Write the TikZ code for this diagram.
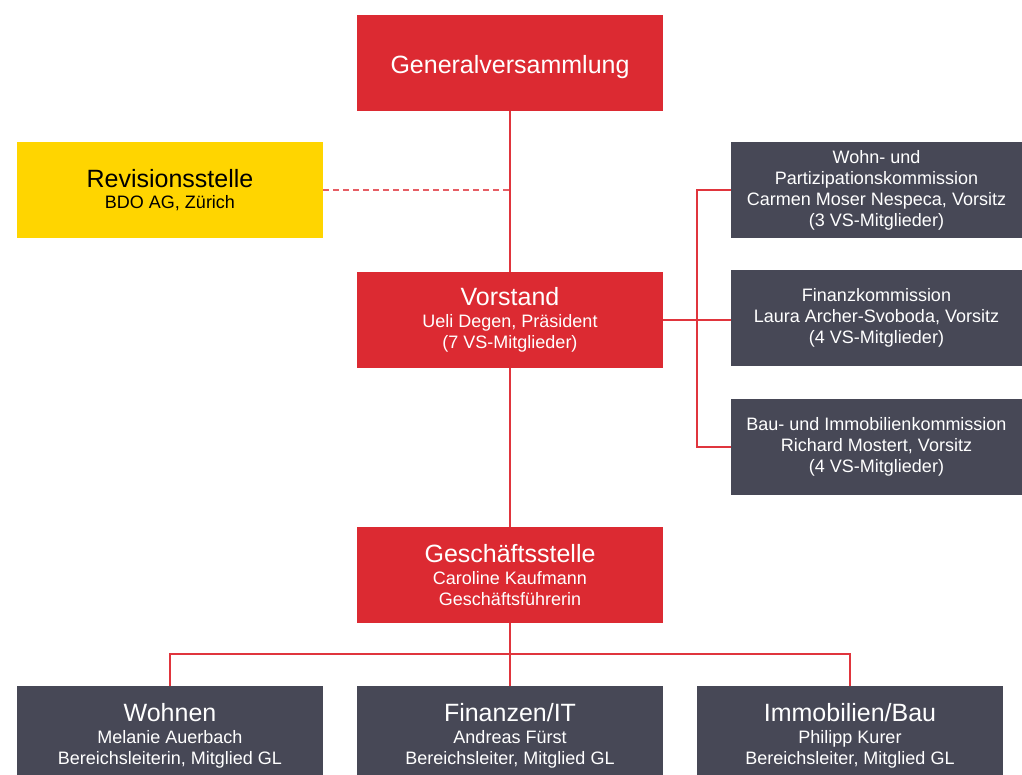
\documentclass[tikz,border=0pt]{standalone}
\usepackage{fontspec}
\setmainfont{Liberation Sans}
\definecolor{orgred}{HTML}{DC2A32}
\definecolor{orgyellow}{HTML}{FFD500}
\definecolor{orgdark}{HTML}{474856}
\definecolor{linered}{HTML}{E0353D}
\newcommand{\ttl}[1]{{\fontsize{25}{26}\selectfont #1}}
\begin{document}
\begin{tikzpicture}[x=1pt,y=-1pt,
  box/.style={rectangle, minimum width=306pt, minimum height=96pt, inner sep=0pt, align=center,
    font=\fontsize{18}{21}\selectfont},
  redbox/.style={box, fill=orgred, text=white},
  yelbox/.style={box, fill=orgyellow, text=black},
  darkbox/.style={box, fill=orgdark, text=white},
  kombox/.style={darkbox, minimum width=291pt},
  conn/.style={draw=linered, line width=1.5pt},
  dconn/.style={draw=linered!80, line width=1.5pt, dash pattern=on 6pt off 4pt}]
\useasboundingbox (0,0) rectangle (1022,774);
\fill[white] (0,0) rectangle (1022,774);
\node[redbox] (gv) at (510,63) {\rule{0pt}{26pt}\ttl{Generalversammlung}};
\node[yelbox] (rev) at (170,190) {\ttl{Revisionsstelle}\\BDO AG, Zürich};
\node[redbox] (vs) at (510,320) {\ttl{Vorstand}\\[1pt]Ueli Degen, Präsident\\(7 VS-Mitglieder)};
\node[kombox] (k1) at (876.5,190) {Wohn- und\\Partizipationskommission\\Carmen Moser Nespeca, Vorsitz\\(3 VS-Mitglieder)};
\node[kombox] (k2) at (876.5,318) {Finanzkommission\\Laura Archer-Svoboda, Vorsitz\\(4 VS-Mitglieder)};
\node[kombox] (k3) at (876.5,447) {Bau- und Immobilienkommission\\Richard Mostert, Vorsitz\\(4 VS-Mitglieder)};
\node[redbox] (gs) at (510,575) {\ttl{Geschäftsstelle}\\[1pt]Caroline Kaufmann\\Geschäftsführerin};
\node[darkbox, minimum height=100pt] (b1) at (170,736) {\ttl{Wohnen}\\[1pt]Melanie Auerbach\\Bereichsleiterin, Mitglied GL};
\node[darkbox, minimum height=100pt] (b2) at (510,736) {\ttl{Finanzen/IT}\\[1pt]Andreas Fürst\\Bereichsleiter, Mitglied GL};
\node[darkbox, minimum height=100pt] (b3) at (850,736) {\ttl{Immobilien/Bau}\\[1pt]Philipp Kurer\\Bereichsleiter, Mitglied GL};
\coordinate (kx) at (697,320);
\coordinate (bus) at (510,654);
% connectors
\draw[conn] (gv.south) -- (vs.north);
\draw[dconn] (rev.east) -- (rev.east -| gv.south);
\draw[conn] (vs.east) -- (vs.east -| k2.west);
\draw[conn] (k1.west) -- (k1.west -| kx) -- (k3.west -| kx) -- (k3.west);
\draw[conn] (vs.south) -- (gs.north);
\draw[conn] (gs.south) -- (b2.north);
\draw[conn] (b1.north) -- (b1.north |- bus) -- (b3.north |- bus) -- (b3.north);
\end{tikzpicture}
\end{document}
